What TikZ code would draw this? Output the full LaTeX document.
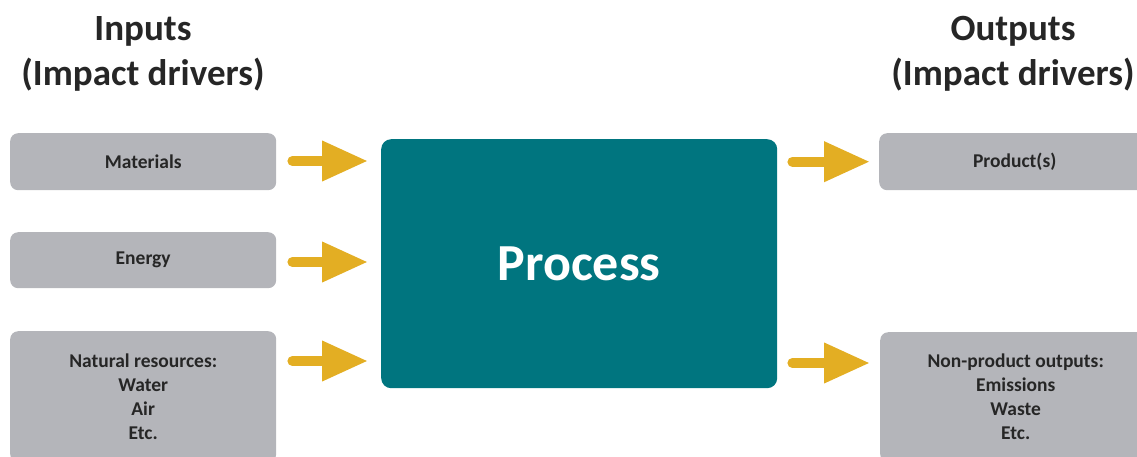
\documentclass[tikz,border=0pt]{standalone}
\usepackage{fontspec}
\setmainfont{Carlito}
\usetikzlibrary{arrows.meta}
\definecolor{boxgrey}{HTML}{B4B5BA}
\definecolor{procteal}{HTML}{00757F}
\definecolor{flowgold}{HTML}{E3AE23}
\definecolor{inktext}{HTML}{262626}
\begin{document}
\begin{tikzpicture}[x=1pt,y=-1pt,line join=round,line cap=round,
    every node/.style={text=inktext,font=\bfseries},
    title/.style={align=center,font=\bfseries\fontsize{37}{45}\selectfont},
    item/.style={fill=boxgrey,rounded corners=8pt,anchor=north west,align=center,
        inner sep=0pt,font=\bfseries\fontsize{19.5}{24}\selectfont},
    flow/.style={draw=flowgold,line width=10pt,line cap=round,-{Triangle[length=46pt,width=38pt]}}]
    \def\W{1137} \def\H{456}
    \useasboundingbox (0,0) rectangle (\W,\H);
    \clip (0,0) rectangle (\W,\H);
    % titles
    \node[title] (intitle) at (143,54) {Inputs\\(Impact drivers)};
    \node[title] (outtitle) at (1013,54) {Outputs\\(Impact drivers)};
    % process
    \node[fill=procteal,rounded corners=10pt,minimum width=396pt,minimum height=249pt,
        anchor=north west,text=white,font=\bfseries\fontsize{52}{60}\selectfont] (proc) at (381,139) {Process};
    % inputs
    \node[item,minimum width=266pt,minimum height=57pt] (mat) at (10,133) {Materials};
    \node[item,minimum width=266pt,minimum height=56pt] (ene) at (10,232) {Energy};
    \node[item,minimum width=266pt,minimum height=131pt] (nat) at (10,331) {Natural resources:\\Water\\Air\\Etc.};
    % outputs
    \node[item,minimum width=271pt,minimum height=57pt] (prod) at (879,133) {Product(s)};
    \node[item,minimum width=271pt,minimum height=130pt] (nonp) at (880,332) {Non-product outputs:\\Emissions\\Waste\\Etc.};
    % arrows
    \foreach \src/\y in {mat/161,ene/262,nat/361}
        \draw[flow,shorten <=16pt,shorten >=13pt] (\src.east |- 0,\y) -- (proc.west |- 0,\y);
    \draw[flow,shorten <=15pt,shorten >=9pt] (proc.east |- prod.west) -- (prod.west);
    \draw[flow,shorten <=15pt,shorten >=10pt] (proc.east |- 0,363) -- (nonp.west |- 0,363);
\end{tikzpicture}
\end{document}
